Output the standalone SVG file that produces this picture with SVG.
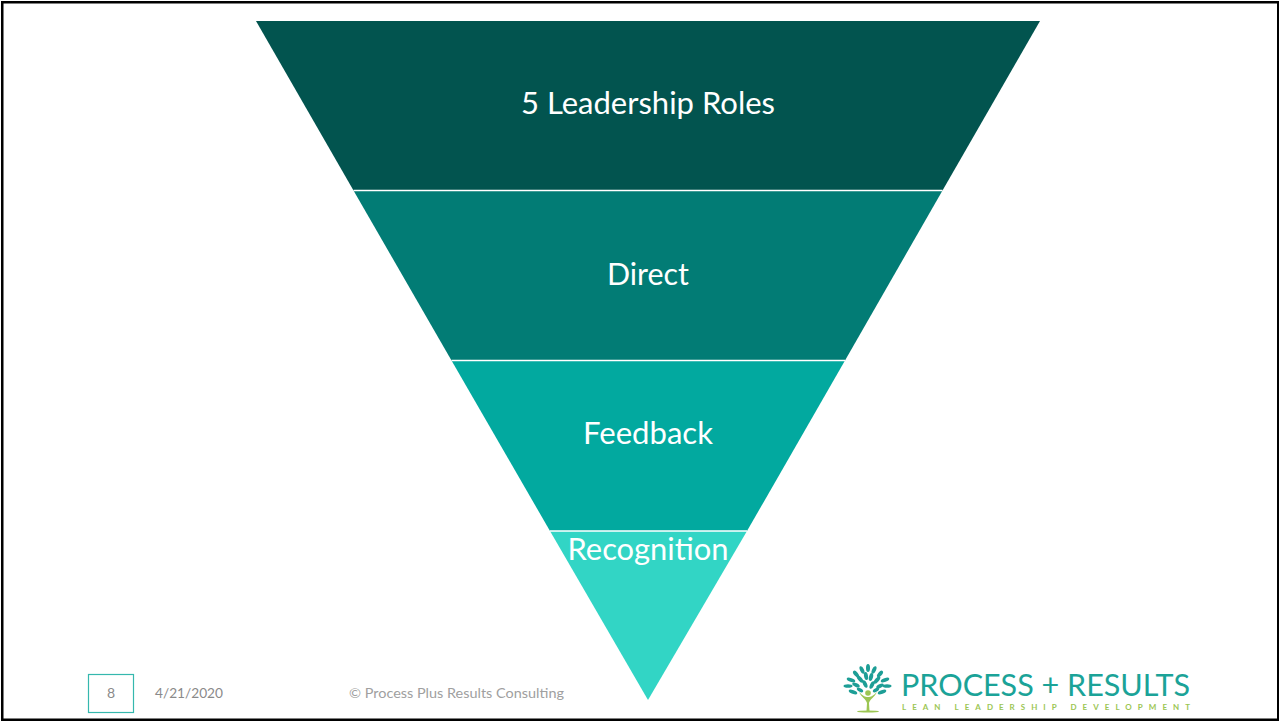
<svg xmlns="http://www.w3.org/2000/svg" width="1279" height="721" viewBox="0 0 1279 721">
<style>
.lbl{font-family:Lato,"Open Sans",sans-serif;font-size:31px;fill:#fff;text-anchor:middle}
.foot{font-family:Lato,"Open Sans",sans-serif;font-size:14px}
.sep{stroke:#fff;stroke-width:1.5;fill:none}
.leaf{fill:#1d9e96}
</style>
<rect width="1279" height="721" fill="#fff"/>
<path d="M1 1H1279V721H1ZM3.500 3.500V718.500H1277V3.500Z" fill="#000" fill-rule="evenodd"/>
<g id="layer-roles"><polygon points="256,21 1040,21 942.500,190.500 353.500,190.500" fill="#02544f"/><text class="lbl" x="648" y="114" textLength="254" lengthAdjust="spacingAndGlyphs">5 Leadership Roles</text></g>
<g id="layer-direct"><polygon points="353.500,190.500 942.500,190.500 845,360.500 451.500,360.500" fill="#027c75"/><text class="lbl" x="648" y="285" textLength="82" lengthAdjust="spacingAndGlyphs">Direct</text></g>
<g id="layer-feedback"><polygon points="451.500,360.500 845,360.500 747,531 550,531" fill="#02a99f"/><text class="lbl" x="648" y="444" textLength="130" lengthAdjust="spacingAndGlyphs">Feedback</text></g>
<g id="layer-recognition"><polygon points="550,531 747,531 648,700" fill="#32d5c5"/><text class="lbl" x="648" y="560" textLength="161" lengthAdjust="spacingAndGlyphs">Recognition</text></g>
<g id="connectors"><path class="sep" d="M353.500 190.500H942.500M451.500 360.500H845M550 531H747"/></g>
<g id="footer">
<rect x="88.500" y="674.500" width="45" height="38" fill="#fff" stroke="#35b8ae" stroke-width="1.200"/>
<text class="foot" x="111" y="698" text-anchor="middle" fill="#8a8a8a">8</text>
<text class="foot" x="155" y="698" fill="#8a8a8a" textLength="68" lengthAdjust="spacingAndGlyphs">4/21/2020</text>
<text class="foot" x="349" y="698" fill="#a0a0a0" textLength="215" lengthAdjust="spacingAndGlyphs">© Process Plus Results Consulting</text>
</g>
<g id="logo">
<g class="leaf">
<ellipse cx="868" cy="668" rx="2" ry="4"/><ellipse cx="862" cy="670" rx="2" ry="4" transform="rotate(-25 862 670)"/><ellipse cx="874" cy="670" rx="2" ry="4" transform="rotate(25 874 670)"/>
<ellipse cx="856" cy="674" rx="2" ry="4" transform="rotate(-40 856 674)"/><ellipse cx="880" cy="674" rx="2" ry="4" transform="rotate(40 880 674)"/>
<ellipse cx="866" cy="676" rx="2" ry="4" transform="rotate(-10 866 676)"/><ellipse cx="871" cy="677" rx="2" ry="4" transform="rotate(15 871 677)"/>
<ellipse cx="860" cy="679" rx="2" ry="4.500" transform="rotate(-40 860 679)"/><ellipse cx="877" cy="680" rx="2" ry="4.500" transform="rotate(40 877 680)"/>
<ellipse cx="851" cy="680" rx="4.500" ry="1.800" transform="rotate(20 851 680)"/><ellipse cx="885" cy="680" rx="4.500" ry="1.800" transform="rotate(-20 885 680)"/>
<ellipse cx="848" cy="686" rx="4.500" ry="1.800"/><ellipse cx="887" cy="686" rx="4.500" ry="1.800"/>
<ellipse cx="856" cy="685" rx="4" ry="1.800" transform="rotate(25 856 685)"/><ellipse cx="880" cy="686" rx="4" ry="1.800" transform="rotate(-25 880 686)"/>
<ellipse cx="865" cy="684" rx="2" ry="4" transform="rotate(-25 865 684)"/><ellipse cx="872" cy="685" rx="2" ry="4" transform="rotate(25 872 685)"/>
<ellipse cx="853" cy="692" rx="4.500" ry="1.800" transform="rotate(20 853 692)"/><ellipse cx="882" cy="692" rx="4.500" ry="1.800" transform="rotate(-20 882 692)"/>
<ellipse cx="860" cy="690" rx="3.500" ry="1.800" transform="rotate(30 860 690)"/><ellipse cx="876" cy="690" rx="3.500" ry="1.800" transform="rotate(-30 876 690)"/>
</g>
<circle cx="868" cy="693" r="2.800" fill="#9cc653"/>
<path d="M859 692C862 698 866 699 867 703L866.500 711H869.500L869 703C870 699 874 698 877 692C873 696 871 697 868 697C865 697 863 696 859 692Z" fill="#9cc653"/>
<ellipse cx="868" cy="711.500" rx="11" ry="1" fill="#9cc653"/>
<text x="901" y="696" font-family="Lato,'Open Sans',sans-serif" font-size="31" fill="#1ba398" textLength="289" lengthAdjust="spacingAndGlyphs">PROCESS + RESULTS</text>
<text x="902" y="710" font-family="Lato,'Open Sans',sans-serif" font-size="8" font-weight="700" fill="#9cc653" textLength="288">LEAN LEADERSHIP DEVELOPMENT</text>
</g>
</svg>
